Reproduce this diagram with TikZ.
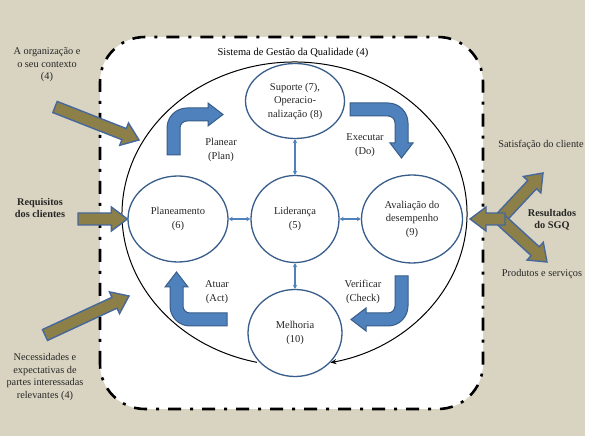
\documentclass[tikz,border=0pt]{standalone}
\usepackage{fontspec}
\setmainfont{Liberation Serif}
\usetikzlibrary{shapes.geometric, arrows.meta, calc}
\definecolor{bgbeige}{RGB}{217,212,193}
\definecolor{pdcablue}{RGB}{79,129,189}
\definecolor{pdcaline}{RGB}{56,93,138}
\definecolor{inputolive}{RGB}{140,127,72}
\definecolor{inputline}{RGB}{70,104,156}
\newcommand\qmsfont{\fontsize{10.5}{13.5}\selectfont}
\newcommand\sidefont{\fontsize{10.3}{12.5}\selectfont}
\tikzset{
  qms circle/.style={
    ellipse, draw=pdcaline, line width=1.3pt, fill=white,
    align=center, font=\qmsfont, text=black!85, inner sep=0pt
  },
  qms label/.style={
    font=\qmsfont, text=black!85, align=center
  },
  qms side/.style={
    font=\sidefont, text=black!85, align=center
  },
  qms link/.style={
    {Stealth[length=4pt,width=4.5pt]}-{Stealth[length=4pt,width=4.5pt]},
    draw=pdcablue, line width=1.2pt
  },
  qms turn/.style={
    fill=pdcablue, draw=pdcaline, line width=1pt
  },
  qms input/.style={
    fill=inputolive, draw=inputline, line width=1.4pt
  },
  qms loop/.style={
    -{Stealth[length=6pt,width=5pt]}, line width=1pt
  },
  qms frame/.style={
    draw, fill=white, line width=2.6pt, rounded corners=45pt,
    dash pattern=on 13pt off 9pt on 3pt off 9pt
  },
  pics/pdca turn/.style 2 args={code={
    \filldraw[qms turn] (0,0) -- (0,#1-20)
      arc[start angle=180, end angle=90, radius=20] -- (#2,#1)
      -- (#2,#1+5) -- (#2+15,#1-6.5) -- (#2,#1-18) -- (#2,#1-13)
      -- (20,#1-13) arc[start angle=90, end angle=180, radius=7]
      -- (13,0) -- cycle;
  }}
}
% fat olive arrow from #1 to #2
\newcommand\inputarrow[2]{%
  \coordinate (ia head) at ($(#2)!16pt!(#1)$);
  \filldraw[qms input] ($(#1)!6pt!90:(#2)$) -- ($(ia head)!6pt!90:(#2)$)
    -- ($(ia head)!12pt!90:(#2)$) -- (#2) -- ($(ia head)!12pt!-90:(#2)$)
    -- ($(ia head)!6pt!-90:(#2)$) -- ($(#1)!6pt!-90:(#2)$) -- cycle;
}

\begin{document}
\begin{tikzpicture}[x=1pt, y=1pt]
  \useasboundingbox (0,0) rectangle (591,436);
  \fill[white] (0,0) rectangle (591,436);
  \fill[bgbeige] (0,0) rectangle (585,436);

  % system boundary
  \path[qms frame] (100,27) rectangle (483,399);
  \node (title) at (293,383) [font=\qmsfont] {Sistema de Gestão da Qualidade (4)};

  % improvement loop
  \coordinate (sys) at (294.5,222);
  \draw[qms loop] ($(sys)+(257.4:172.5 and 152)$)
    arc[start angle=257.4, end angle=-78, x radius=172.5, y radius=152];

  % clauses
  \node (supp) at (295,335) [qms circle, minimum width=99pt, minimum height=75pt]
    {Suporte (7),\\Operacio-\\nalização (8)};
  \node (lead) at (295,217) [qms circle, minimum width=88pt, minimum height=87pt]
    {Liderança\\(5)};
  \node (plan) at (178,217) [qms circle, minimum width=100pt, minimum height=86pt]
    {Planeamento\\(6)};
  \node (eval) at (412,217) [qms circle, minimum width=101pt, minimum height=88pt]
    {Avaliação do\\desempenho\\(9)};
  \node (impr) at (295,103) [qms circle, minimum width=94pt, minimum height=87pt]
    {Melhoria\\(10)};

  \draw[qms link] (supp) -- (lead);
  \draw[qms link] (lead) -- (impr);
  \draw[qms link] (plan) -- (lead);
  \draw[qms link] (lead) -- (eval);

  % PDCA turns
  \pic at (167,281) {pdca turn={47}{41}};
  \pic[rotate=-90] at (350,333) {pdca turn={58}{40}};
  \pic[rotate=180] at (408,160) {pdca turn={50}{42}};
  \pic[rotate=90] at (227,110) {pdca turn={57}{39}};

  \node (plan txt) at (221,286) [qms label] {Planear\\(Plan)};
  \node (do txt) at (365,291) [qms label] {Executar\\(Do)};
  \node (check txt) at (363,144) [qms label] {Verificar\\(Check)};
  \node (act txt) at (217,144) [qms label] {Atuar\\(Act)};

  % inputs
  \node (org) at (47,371) [qms side] {A organização e\\o seu contexto\\(4)};
  \node (req) at (40,228) [qms side, font=\sidefont\bfseries] {Requisitos\\dos clientes};
  \node (needs) at (45,59) [qms side] {Necessidades e\\expectativas de\\partes interessadas\\relevantes (4)};

  \coordinate (org tail) at (55,329);
  \coordinate (org tip) at (139,296);
  \coordinate (req tail) at (78,217);
  \coordinate (needs tail) at (45,101);
  \coordinate (needs tip) at (129,140);
  \inputarrow{org tail}{org tip}
  \inputarrow{req tail}{plan.west}
  \inputarrow{needs tail}{needs tip}

  % outputs
  \node (sat) at (541,291) [qms side] {Satisfação do cliente};
  \node (res) at (552,216) [qms side, font=\sidefont\bfseries] {Resultados\\do SGQ};
  \node (prod) at (542,162) [qms side] {Produtos e serviços};

  \coordinate (out hub) at (500,217);
  \coordinate (out end) at (505,217);
  \coordinate (sat tip) at (543,263);
  \coordinate (prod tip) at (547,174);
  \coordinate (eval tip) at (470,217);
  \inputarrow{out hub}{sat tip}
  \inputarrow{out hub}{prod tip}
  \inputarrow{out end}{eval tip}
\end{tikzpicture}
\end{document}
